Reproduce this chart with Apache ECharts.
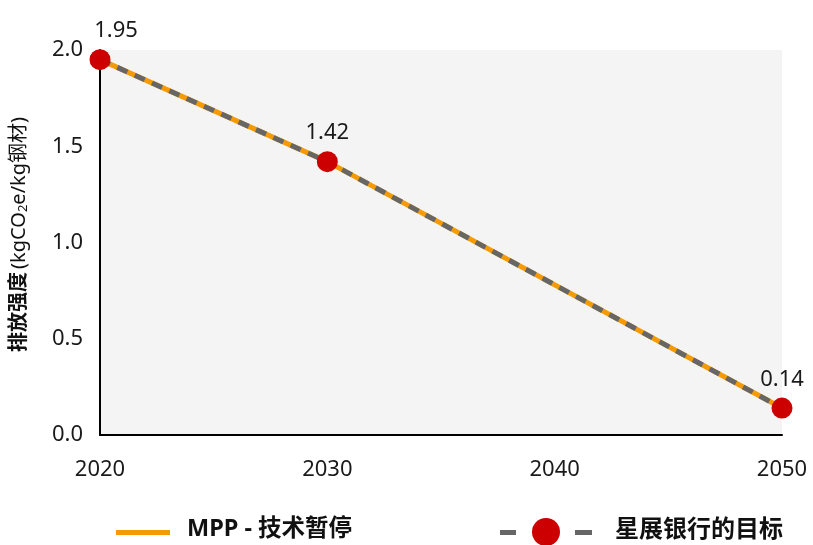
<!DOCTYPE html>
<html>
<head>
<meta charset="utf-8">
<script src="https://cdn.jsdelivr.net/npm/echarts@6/dist/echarts.min.js"></script>
<style>
  html, body { margin: 0; padding: 0; background: #fff; }
  #chart { width: 813px; height: 545px; }
</style>
</head>
<body>
<div id="chart"></div>
<script>
// Emission intensity pathways (kgCO2e per kg steel)
const years = [2020, 2030, 2050];
const mppValues = [1.95, 1.42, 0.14];      // MPP - technology moratorium
const targetValues = [1.95, 1.42, 0.14];   // bank target
const targetLabels = ['1.95', '1.42', '0.14'];
const xTicks = [2020, 2030, 2040, 2050];
const yTicks = [0, 0.5, 1.0, 1.5, 2.0];

const mppName = 'MPP - 技术暂停';
const targetName = '星展银行的目标';

const FONT = '"Noto Sans", "Open Sans", "Noto Sans CJK SC", sans-serif';
const ORANGE = '#f59a00';
const GREY = '#666666';
const RED = '#cc0000';

const chart = echarts.init(document.getElementById('chart'));

const mppData = years.map((y, i) => [y, mppValues[i]]);
const targetData = years.map((y, i) => ({
  value: [y, targetValues[i]],
  label: { formatter: targetLabels[i], offset: i === 0 ? [16, 0] : [0, 0] }
}));

chart.setOption({
  animation: false,
  textStyle: { fontFamily: FONT },
  grid: {
    left: 100, right: 31, top: 50, bottom: 110,
    outerBoundsMode: 'none',
    containLabel: false,
    show: true, backgroundColor: '#f4f4f4', borderWidth: 0
  },
  xAxis: {
    type: 'value',
    min: xTicks[0], max: xTicks[xTicks.length - 1], interval: 10,
    axisLine: { show: true, lineStyle: { color: '#000', width: 2 } },
    axisTick: { show: false },
    splitLine: { show: false },
    axisLabel: {
      margin: 24, fontSize: 22, color: '#1a1a1a', fontFamily: FONT,
      formatter: v => String(v)
    }
  },
  yAxis: {
    type: 'value',
    min: yTicks[0], max: yTicks[yTicks.length - 1], interval: 0.5,
    axisLine: { show: true, lineStyle: { color: '#000', width: 2 } },
    axisTick: { show: false },
    splitLine: { show: false },
    axisLabel: {
      margin: 17, fontSize: 22, color: '#1a1a1a', fontFamily: FONT,
      formatter: v => v.toFixed(1)
    },
    name: '{b|排放强度} {n|(kgCO}{s|2}{n|e/kg钢材)}',
    nameLocation: 'middle',
    nameRotate: 90,
    nameGap: 70,
    nameTextStyle: {
      padding: [0, 0, 0, 16],
      rich: {
        b: { fontSize: 20, fontWeight: 'bold', color: '#111', fontFamily: FONT },
        n: { fontSize: 20, color: '#111', fontFamily: FONT },
        s: { fontSize: 13, color: '#111', fontFamily: FONT, verticalAlign: 'bottom', padding: [9, 0, 0, 0] }
      }
    }
  },
  series: [
    {
      name: mppName,
      type: 'line',
      data: mppData,
      symbol: 'none',
      lineStyle: { color: ORANGE, width: 5 },
      z: 2
    },
    {
      name: targetName,
      type: 'line',
      data: targetData,
      symbol: 'circle',
      symbolSize: 21,
      itemStyle: { color: RED },
      lineStyle: { color: GREY, width: 5, type: [11, 8] },
      label: {
        show: true, position: 'top', distance: 7,
        fontSize: 22, color: '#1a1a1a', fontFamily: FONT
      },
      z: 3
    }
  ],
  graphic: [
    // legend: MPP
    { type: 'rect', left: 116, top: 530, shape: { width: 54, height: 5 }, style: { fill: ORANGE } },
    { type: 'text', left: 187, top: 518, style: { text: mppName, font: 'bold 23.5px ' + FONT, fill: '#111' } },
    // legend: target
    { type: 'rect', left: 500, top: 530, shape: { width: 16, height: 5 }, style: { fill: GREY } },
    { type: 'circle', left: 532, top: 518, shape: { r: 14 }, style: { fill: RED } },
    { type: 'rect', left: 575, top: 530, shape: { width: 17, height: 5 }, style: { fill: GREY } },
    { type: 'text', left: 615, top: 518, style: { text: targetName, font: 'bold 24px ' + FONT, fill: '#111' } }
  ]
});
</script>
</body>
</html>
